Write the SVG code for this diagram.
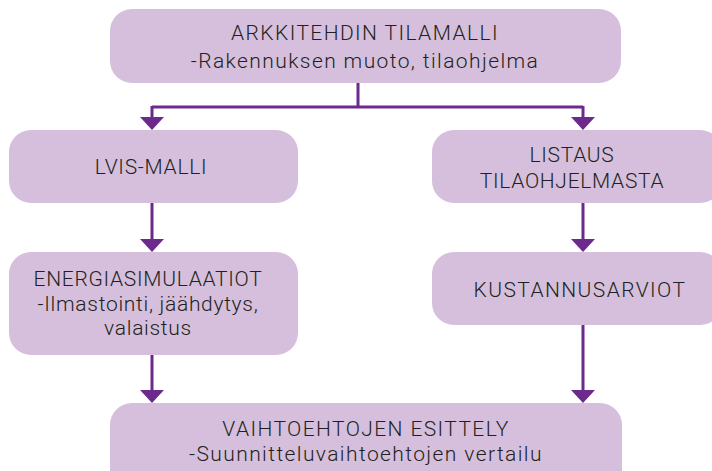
<svg xmlns="http://www.w3.org/2000/svg" width="712" height="471" viewBox="0 0 712 471">
<defs>
<style>
.box{fill:#d5bfdc;}
.t{font-family:Roboto,"Liberation Sans",sans-serif;font-size:21px;font-weight:300;fill:#231f20;text-anchor:middle;letter-spacing:0.7px;}
.w{letter-spacing:1.4px;}
.c{stroke:#6c2a8c;stroke-width:3;fill:none;}
.ah{fill:#6c2a8c;}
</style>
</defs>
<rect width="712" height="471" fill="#ffffff"/>
<g id="connectors">
<path class="c" d="M358 83 V107 M152 107 H583 M152 106 V118 M583 106 V118"/>
<path class="c" d="M152 203 V240 M583 203 V240"/>
<path class="c" d="M152 355 V391 M583 325 V391"/>
<polygon class="ah" points="140,117 164,117 152,130"/>
<polygon class="ah" points="571,117 595,117 583,130"/>
<polygon class="ah" points="140,239 164,239 152,252"/>
<polygon class="ah" points="571,239 595,239 583,252"/>
<polygon class="ah" points="140,390 164,390 152,403"/>
<polygon class="ah" points="571,390 595,390 583,403"/>
</g>
<g id="n1"><rect class="box" x="110" y="9" width="511" height="74" rx="22"/>
<text class="t w" x="365" y="40">ARKKITEHDIN TILAMALLI</text>
<text class="t w" x="365" y="68">-Rakennuksen muoto, tilaohjelma</text></g>
<g id="n2"><rect class="box" x="9" y="130" width="289" height="73" rx="22"/>
<text class="t" x="151" y="174">LVIS-MALLI</text></g>
<g id="n3"><rect class="box" x="432" y="130" width="290" height="73" rx="22"/>
<text class="t" x="572" y="162">LISTAUS</text>
<text class="t" x="572" y="188">TILAOHJELMASTA</text></g>
<g id="n4"><rect class="box" x="9" y="252" width="289" height="103" rx="22"/>
<text class="t" x="148" y="286">ENERGIASIMULAATIOT</text>
<text class="t" x="148" y="311">-Ilmastointi, jäähdytys,</text>
<text class="t" x="148" y="335">valaistus</text></g>
<g id="n5"><rect class="box" x="432" y="252" width="290" height="73" rx="22"/>
<text class="t w" x="580" y="297">KUSTANNUSARVIOT</text></g>
<g id="n6"><rect class="box" x="110" y="403" width="512" height="90" rx="22"/>
<text class="t w" x="366" y="436">VAIHTOEHTOJEN ESITTELY</text>
<text class="t w" x="366" y="461">-Suunnitteluvaihtoehtojen vertailu</text></g>
</svg>
